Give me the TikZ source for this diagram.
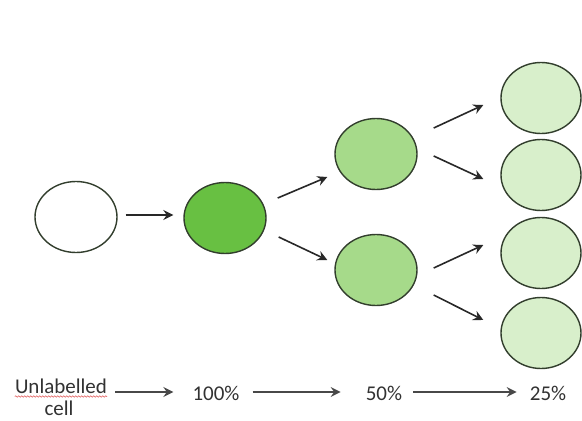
\documentclass[tikz,border=0pt]{standalone}
\usepackage{fontspec}
\setmainfont{Carlito}
\usetikzlibrary{shapes.geometric,arrows.meta,decorations.pathmorphing}
\definecolor{outl}{RGB}{50,62,45}
\definecolor{gA}{RGB}{104,192,66}
\definecolor{gB}{RGB}{166,218,138}
\definecolor{gC}{RGB}{216,239,203}
\definecolor{arrc}{RGB}{40,40,40}
\definecolor{txtc}{RGB}{50,50,50}
\definecolor{spell}{RGB}{225,90,90}
\tikzset{
  cellnode/.style={ellipse, draw=outl, line width=1.4pt, inner sep=0pt, minimum width=82pt, minimum height=71pt},
  arr/.style={draw=arrc, line width=1.6pt, -{Stealth[length=10pt,width=10pt,inset=3.5pt]}},
  barr/.style={draw=arrc!85, line width=1.6pt, -{Stealth[length=10pt,width=10pt,inset=3.5pt]}},
  lbl/.style={inner sep=0pt, anchor=base, text=txtc, font=\fontsize{21}{25}\selectfont}
}
\begin{document}
\begin{tikzpicture}[x=1pt,y=-1pt]
\useasboundingbox[fill=white] (0,0) rectangle (582,421);
% cells
\node[cellnode, fill=white] (c0) at (76,217) {};
\node[cellnode, fill=gA] (c1) at (225,218) {};
\node[cellnode, fill=gB] (l2a) at (376,154) {};
\node[cellnode, fill=gB] (l2b) at (376,270) {};
\node[cellnode, fill=gC, minimum width=80pt] (l3a) at (541,98) {};
\node[cellnode, fill=gC, minimum width=80pt] (l3b) at (541,175) {};
\node[cellnode, fill=gC, minimum width=80pt] (l3c) at (541,253) {};
\node[cellnode, fill=gC, minimum width=80pt] (l3d) at (541,333) {};
% arrows between cells
\draw[arr] ([shift={(8,-2)}]c0.east) -- ([shift={(-10,-3)}]c1.west);
\draw[arr] ([shift={(11,-20)}]c1.east) -- ([shift={(-7,23)}]l2a.west);
\draw[arr] ([shift={(12,19)}]c1.east) -- ([shift={(-7,-10)}]l2b.west);
\draw[arr] ([shift={(16,-26)}]l2a.east) -- ([shift={(-17,7)}]l3a.west);
\draw[arr] ([shift={(16,2)}]l2a.east) -- ([shift={(-17,4)}]l3b.west);
\draw[arr] ([shift={(16,-2)}]l2b.east) -- ([shift={(-17,-8)}]l3c.west);
\draw[arr] ([shift={(16,25)}]l2b.east) -- ([shift={(-17,-13)}]l3d.west);
% bottom row
\node[lbl] (u1) at (61,393) {Unlabelled};
\node[lbl] (u2) at (59,415) {cell};
\node[lbl] (p100) at (216,400) {100\%};
\node[lbl] (p50) at (384,400) {50\%};
\node[lbl] (p25) at (548,400) {25\%};
\draw[spell, line width=0.6pt, decorate, decoration={snake, amplitude=0.7pt, segment length=3pt}]
  ([shift={(0,3.5)}]u1.base west) -- ([shift={(0,3.5)}]u1.base east);
\draw[barr] ([shift={(8,-1)}]u1.base east) -- ([shift={(-19,-8)}]p100.base west);
\draw[barr] ([shift={(13,-8)}]p100.base east) -- ([shift={(-25,-8)}]p50.base west);
\draw[barr] ([shift={(11,-8)}]p50.base east) -- ([shift={(-13,-8)}]p25.base west);
\end{tikzpicture}
\end{document}
